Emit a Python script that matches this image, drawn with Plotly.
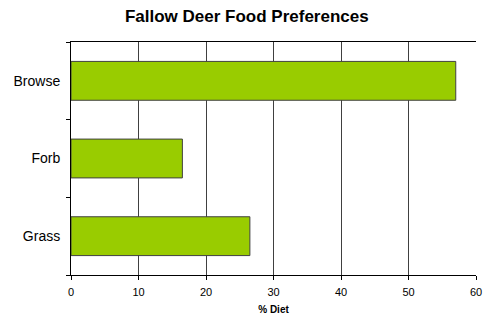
import plotly.graph_objects as go

categories = ["Grass", "Forb", "Browse"]
diet_pct = [26.5, 16.5, 57]
x_ticks = [0, 10, 20, 30, 40, 50, 60]

fig = go.Figure(go.Bar(
    x=diet_pct, y=categories, orientation="h",
    marker=dict(color="#99CC00", line=dict(color="#404040", width=1)),
))

fig.update_layout(
    width=483, height=320,
    margin=dict(l=71, r=7, t=42, b=45),
    plot_bgcolor="white", paper_bgcolor="white",
    font=dict(family="Liberation Sans, Arial, sans-serif", color="black"),
    title=dict(text="<b>Fallow Deer Food Preferences</b>", x=0.511, xanchor="center",
               y=0.95, yanchor="middle", font=dict(size=17)),
    bargap=0.5,
    showlegend=False,
)
fig.update_xaxes(
    range=[0, 60], tickvals=x_ticks, ticks="outside", ticklen=4, tickcolor="black",
    showline=True, linecolor="black", linewidth=1, mirror=True,
    showgrid=True, gridcolor="#404040", gridwidth=1, zeroline=False,
    tickfont=dict(size=11), ticklabelstandoff=3, automargin=False,
    title=dict(text="<b>% Diet</b>", font=dict(size=10), standoff=8),
)
fig.update_yaxes(
    categoryorder="array", categoryarray=categories,
    tickson="boundaries", ticks="outside", ticklen=4, tickcolor="black",
    showline=True, linecolor="black", linewidth=1, showgrid=False,
    tickfont=dict(size=14), ticklabelstandoff=7, automargin=False,
)

fig.write_html("out.html")
